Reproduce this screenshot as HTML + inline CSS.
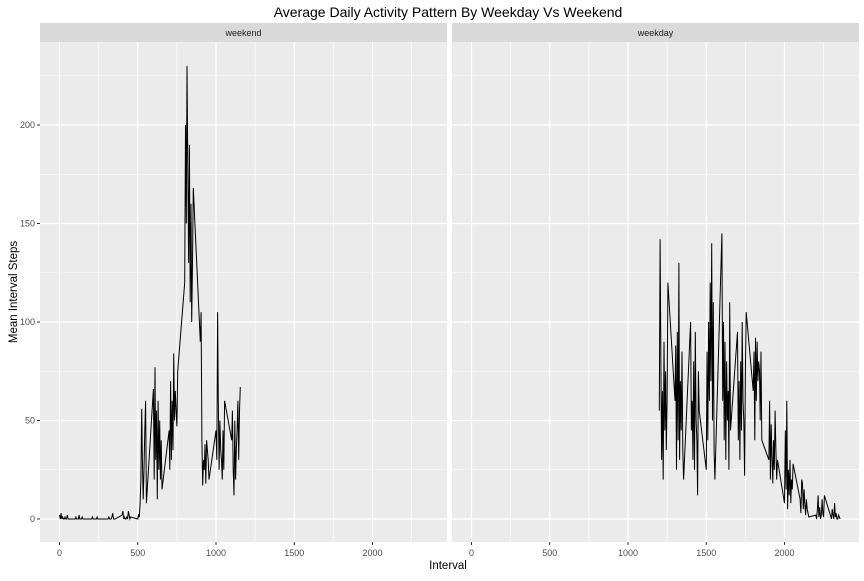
<!DOCTYPE html>
<html><head><meta charset="utf-8"><style>
body{margin:0;background:#fff;font-family:"Liberation Sans",sans-serif}
</style></head><body>
<svg id="c" width="864" height="576" xmlns="http://www.w3.org/2000/svg">
<text x="448" y="17" text-anchor="middle" font-size="14" fill="#000">Average Daily Activity Pattern By Weekday Vs Weekend</text>
<text x="448" y="569" text-anchor="middle" font-size="11.5" fill="#000">Interval</text>
<text transform="translate(17,292) rotate(-90)" text-anchor="middle" font-size="11.5" fill="#000">Mean Interval Steps</text>
<g id="g"></g>
</svg>
<script>
const panels=["weekend","weekday"];
const startHour=[0,12];
const weekendVals=[2,0,3,0,1,0,0,1,0,0,2,0, 0,1,0,0,0,2,0,0,0,1,0,0, 0,0,1,0,0,0,0,0,1,0,0,0, 0,0,0,1,0,0,0,1,3,0,0,0, 2,4,0,1,0,0,1,0,4,2,0,1, 0,2,1,8,20,56,30,10,25,45,60,8, 66,20,77,30,55,10,60,25,50,20,40,15, 45,25,70,30,60,35,84,50,65,55,47,75, 120,200,150,230,180,130,190,110,160,100,130,168, 90,105,40,17,30,25,38,18,40,35,30,20, 45,30,105,60,25,50,35,30,20,45,25,60, 40,55,25,12,50,20,35,45,60,30,55,67];
const weekdayVals=[55,142,80,30,65,20,90,45,75,35,60,120, 60,88,25,95,40,130,30,70,45,85,35,20, 100,45,60,30,80,25,95,50,40,12,75,55, 25,85,40,100,60,120,70,140,50,110,35,20, 145,60,100,40,90,30,80,50,65,25,110,45, 95,40,70,30,80,45,100,60,50,22,75,105, 65,85,40,92,60,90,70,80,75,50,85,40, 30,60,20,48,30,18,40,25,55,35,20,30, 8,45,15,60,5,25,12,30,8,20,15,28, 10,3,20,18,5,15,8,2,10,5,3,1, 2,0,5,12,1,6,0,2,10,3,1,12, 0,5,2,0,8,1,3,0,0,2,1,0];
const xTicks=[0,500,1000,1500,2000];
const xMinor=[250,750,1250,1750,2250];
const yTicks=[0,50,100,150,200];
const yMinor=[25,75,125,175,225];
const series=[weekendVals,weekdayVals];
const NS="http://www.w3.org/2000/svg";
const g=document.getElementById('g');
const PW=407,PT=42,PB=542,left=[40,452];
const xs=(p,v)=>left[p]+19.5+v*0.1565;
const ys=v=>519-v*1.97;
function mk(t,a,parent){const e=document.createElementNS(NS,t);for(const k in a)e.setAttribute(k,a[k]);(parent||g).appendChild(e);return e;}
panels.forEach((name,p)=>{
  const r=mk('rect',{x:left[p],y:PT,width:PW,height:PB-PT,fill:'#ebebeb'});
  
  
  const s=mk('rect',{x:left[p],y:23,width:PW,height:19,fill:'#d9d9d9'});
  
  
  const st=mk('text',{x:left[p]+PW/2,y:36,'text-anchor':'middle','font-size':'9','fill':'#1a1a1a'});
  st.textContent=name;
  
  
  xMinor.forEach(v=>mk('line',{x1:xs(p,v),x2:xs(p,v),y1:PT,y2:PB,stroke:'#fff','stroke-width':0.6}));
  yMinor.forEach(v=>mk('line',{x1:left[p],x2:left[p]+PW,y1:ys(v),y2:ys(v),stroke:'#fff','stroke-width':0.6}));
  xTicks.forEach(v=>{
    mk('line',{x1:xs(p,v),x2:xs(p,v),y1:PT,y2:PB,stroke:'#fff','stroke-width':1.2});
    mk('line',{x1:xs(p,v),x2:xs(p,v),y1:PB,y2:PB+3,stroke:'#333','stroke-width':1});
    const t=mk('text',{x:xs(p,v),y:PB+14,'text-anchor':'middle','font-size':'9',fill:'#4d4d4d'});
    t.textContent=v;
    
    
  });
  yTicks.forEach(v=>mk('line',{x1:left[p],x2:left[p]+PW,y1:ys(v),y2:ys(v),stroke:'#fff','stroke-width':1.2}));
  const vals=series[p];
  let d='';
  vals.forEach((v,i)=>{const x=(startHour[p]+Math.floor(i/12))*100+(i%12)*5;d+=(i?'L':'M')+xs(p,x).toFixed(1)+','+ys(v).toFixed(1);});
  const path=mk('path',{d:d,fill:'none',stroke:'#000','stroke-width':1});
  
  
});
yTicks.forEach(v=>{
  mk('line',{x1:37,x2:40,y1:ys(v),y2:ys(v),stroke:'#333'});
  const t=mk('text',{x:35,y:ys(v)+3,'text-anchor':'end','font-size':'9',fill:'#4d4d4d'});
  t.textContent=v;
  
  
});
</script>
</body></html>
